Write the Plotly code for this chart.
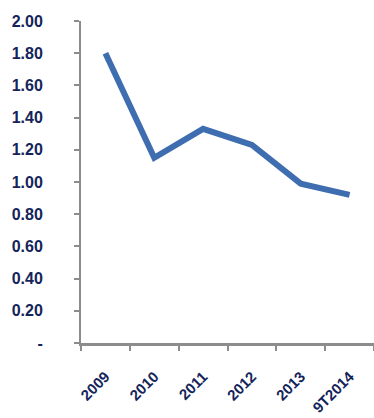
import plotly.graph_objects as go

categories = ["2009", "2010", "2011", "2012", "2013", "9T2014"]
values = [1.80, 1.15, 1.33, 1.23, 0.99, 0.92]
y_tickvals = [0, 0.2, 0.4, 0.6, 0.8, 1.0, 1.2, 1.4, 1.6, 1.8, 2.0]
y_ticktext = ["-", "0.20", "0.40", "0.60", "0.80", "1.00", "1.20", "1.40", "1.60", "1.80", "2.00"]

fig = go.Figure()
fig.add_trace(go.Scatter(
    x=categories, y=values, mode="lines",
    line=dict(color="#3E6DB0", width=6),
    hoverinfo="skip",
))

axis_gray = "#8C8C8C"
label_font = dict(family="Liberation Sans, Arial, sans-serif", color="#14245A", weight="bold")

fig.update_layout(
    width=374, height=418,
    margin=dict(l=81, r=0, t=21, b=75),
    paper_bgcolor="white", plot_bgcolor="white",
    showlegend=False,
    xaxis=dict(
        type="category", range=[-0.5, 5.5],
        tickson="boundaries",
        showline=True, linecolor=axis_gray, linewidth=3,
        ticks="outside", ticklen=5, tickwidth=2, tickcolor=axis_gray,
        showgrid=False, zeroline=False,
        tickangle=-45,
        tickfont=dict(size=15, **label_font),
        ticklabelstandoff=16,
    ),
    yaxis=dict(
        range=[0, 2],
        tickvals=y_tickvals, ticktext=y_ticktext,
        showline=True, linecolor=axis_gray, linewidth=2,
        ticks="outside", ticklen=5, tickwidth=2, tickcolor=axis_gray,
        showgrid=False, zeroline=False,
        tickfont=dict(size=16, **label_font),
        ticklabelstandoff=28,
    ),
)

fig.write_html("out.html")
